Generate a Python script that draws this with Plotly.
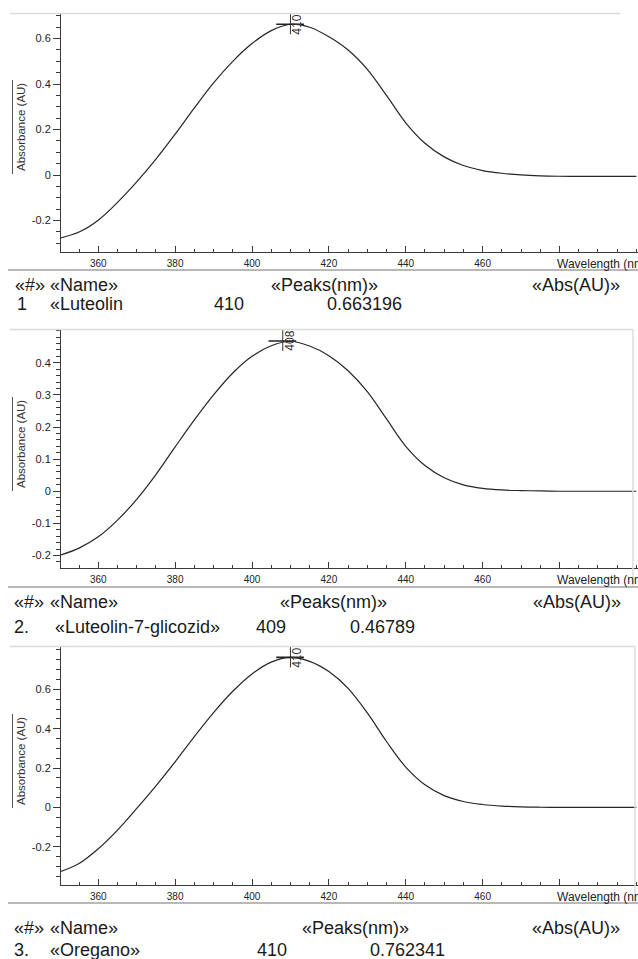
import plotly.graph_objects as go

W, H = 638, 959

# ---------------- data ----------------
wavelength = [350, 355, 360, 365, 370, 375, 380, 385, 390, 395, 400, 405, 410, 415, 420,
              425, 430, 435, 440, 445, 450, 455, 460, 465, 470, 475, 480, 485, 490, 495, 500]

abs_luteolin = [-0.277, -0.25, -0.198, -0.12, -0.03, 0.07, 0.18, 0.295, 0.405, 0.5, 0.578,
                0.635, 0.663, 0.65, 0.608, 0.55, 0.465, 0.35, 0.23, 0.14, 0.08, 0.042,
                0.02, 0.008, 0.001, -0.003, -0.005, -0.006, -0.006, -0.006, -0.006]

abs_glicozid = [-0.199, -0.177, -0.142, -0.09, -0.025, 0.052, 0.138, 0.222, 0.3, 0.368, 0.42,
                0.453, 0.467, 0.452, 0.422, 0.375, 0.31, 0.225, 0.14, 0.08, 0.042, 0.02,
                0.009, 0.004, 0.002, 0.001, 0.0, 0.0, 0.0, 0.0, 0.0]

abs_oregano = [-0.327, -0.285, -0.21, -0.115, -0.005, 0.11, 0.232, 0.36, 0.482, 0.59, 0.678,
               0.738, 0.762, 0.742, 0.69, 0.605, 0.48, 0.335, 0.205, 0.115, 0.06, 0.03,
               0.015, 0.007, 0.003, 0.001, 0.0, 0.0, 0.0, 0.0, 0.0]

series = [abs_luteolin, abs_glicozid, abs_oregano]

peak_nm = [410, 408, 410]
peak_abs = [0.663196, 0.46789, 0.762341]
peak_labels = ["410", "408", "410"]

header_labels = ["«#»", "«Name»", "«Peaks(nm)»", "«Abs(AU)»"]
row_numbers = ["1", "2.", "3."]
row_names = ["«Luteolin", "«Luteolin-7-glicozid»", "«Oregano»"]
row_peaks = ["410", "409", "410"]
row_abs = ["0.663196", "0.46789", "0.762341"]

x_tickvals = [360, 380, 400, 420, 440, 460, 480]
x_ticktext = ["360", "380", "400", "420", "440", "460", ""]
y_tickvals = [[-0.2, 0, 0.2, 0.4, 0.6],
              [-0.2, -0.1, 0, 0.1, 0.2, 0.3, 0.4],
              [-0.2, 0, 0.2, 0.4, 0.6]]
y_ticktext = [["-0.2", "0", "0.2", "0.4", "0.6"],
              ["-0.2", "-0.1", "0", "0.1", "0.2", "0.3", "0.4"],
              ["-0.2", "0", "0.2", "0.4", "0.6"]]

# ---------------- layout geometry (pixels) ----------------
panel_px = [(14, 252), (330, 568), (647, 885)]
y_ranges = [(-0.338, 0.708), (-0.239, 0.502), (-0.394, 0.815)]
y_minor = [0.05, 0.02, 0.05]
x_range = (350.3, 500.3)
x_dom = (61 / W, 637.5 / W)
frame_right = [620, 633, 635]
sep_px = [270, 587, 903]
title_center = [127, 444, 761]
header_y = [284.5, 601.5, 928]
row_y = [304, 627, 950]
col_x_header = [[13, 48, 269, 530], [12, 48, 278, 531], [12, 48, 300, 530]]
col_x_row = [[15, 48, 212, 325], [12, 53, 254, 348], [12, 48, 255, 368]]

TXT = "Liberation Sans, Arial, sans-serif"
AX = "#3a3a3a"


def px(xp):
    return xp / W


def py(yp):
    return 1 - yp / H


fig = go.Figure()
shapes = []
annotations = []
layout = {}

for i in range(3):
    k = "" if i == 0 else str(i + 1)
    top, bot = panel_px[i]
    xa, ya = "x" + k, "y" + k
    fig.add_trace(go.Scatter(x=wavelength, y=series[i], mode="lines",
                             line=dict(color="#262626", width=1.2, shape="spline", smoothing=1.0),
                             xaxis=xa, yaxis=ya, showlegend=False, hoverinfo="skip"))
    # peak marker
    span = y_ranges[i][1] - y_ranges[i][0]
    d_up = 12 * span / (bot - top)
    d_dn = 10 * span / (bot - top)
    fig.add_trace(go.Scatter(x=[peak_nm[i], peak_nm[i]], y=[peak_abs[i] - d_dn, peak_abs[i] + d_up],
                             mode="lines", line=dict(color="#333", width=1),
                             xaxis=xa, yaxis=ya, showlegend=False, hoverinfo="skip", cliponaxis=False))
    fig.add_trace(go.Scatter(x=[peak_nm[i] - 3.7, peak_nm[i] + 3.5], y=[peak_abs[i], peak_abs[i]],
                             mode="lines", line=dict(color="#222", width=1.6),
                             xaxis=xa, yaxis=ya, showlegend=False, hoverinfo="skip"))
    annotations.append(dict(x=peak_nm[i], y=peak_abs[i], xref=xa, yref=ya, xshift=7,
                            text=peak_labels[i], textangle=-90, showarrow=False,
                            font=dict(family=TXT, size=12, color="#333")))

    layout["xaxis" + k] = dict(domain=list(x_dom), range=list(x_range), anchor=ya,
                               showline=True, linecolor=AX, linewidth=1, showgrid=False, zeroline=False,
                               tickmode="array", tickvals=x_tickvals, ticktext=x_ticktext,
                               ticks="inside", ticklen=6, tickcolor=AX, tickwidth=1,
                               minor=dict(ticks="inside", ticklen=3, tickmode="linear", tick0=350, dtick=5,
                                          tickcolor=AX, showgrid=False),
                               tickfont=dict(family=TXT, size=10, color="#222"), ticklabelstandoff=2)
    layout["yaxis" + k] = dict(domain=[py(bot), py(top)], range=list(y_ranges[i]), anchor=xa,
                               showline=True, linecolor=AX, linewidth=1, showgrid=False, zeroline=False,
                               tickmode="array", tickvals=y_tickvals[i], ticktext=y_ticktext[i],
                               ticks="outside", ticklen=7, tickcolor=AX, tickwidth=1,
                               minor=dict(ticks="outside", ticklen=4, tickmode="linear", tick0=0,
                                          dtick=y_minor[i], tickcolor=AX, showgrid=False),
                               tickfont=dict(family=TXT, size=11, color="#222"))

    # frame lines
    shapes.append(dict(type="line", xref="paper", yref="paper", x0=px(10), x1=px(frame_right[i]),
                       y0=py(top - 0.5), y1=py(top - 0.5), line=dict(color="#dcdcdc", width=1.5)))
    if i > 0:
        shapes.append(dict(type="line", xref="paper", yref="paper", x0=px(frame_right[i]),
                           x1=px(frame_right[i]), y0=py(top - 0.5), y1=py(sep_px[i]),
                           line=dict(color="#dcdcdc", width=1.5)))
    shapes.append(dict(type="line", xref="paper", yref="paper", x0=px(8), x1=1,
                       y0=py(sep_px[i]), y1=py(sep_px[i]), line=dict(color="#b8b8b8", width=2)))
    # overline of axis title
    c = title_center[i]
    shapes.append(dict(type="line", xref="paper", yref="paper", x0=px(12.5), x1=px(12.5),
                       y0=py(c - 47), y1=py(c + 47), line=dict(color="#555", width=1)))
    annotations.append(dict(x=px(21), y=py(c), xref="paper", yref="paper", text="Absorbance (AU)",
                            textangle=-90, showarrow=False, xanchor="center", yanchor="middle",
                            font=dict(family=TXT, size=11.5, color="#333")))
    annotations.append(dict(x=px(555), y=py(bot + 11.5), xref="paper", yref="paper",
                            text="Wavelength (nm)", showarrow=False, xanchor="left", yanchor="middle",
                            font=dict(family=TXT, size=12, color="#222")))
    # table text
    for j, lab in enumerate(header_labels):
        annotations.append(dict(x=px(col_x_header[i][j]), y=py(header_y[i]), xref="paper", yref="paper",
                                text=lab, showarrow=False, xanchor="left", yanchor="middle",
                                font=dict(family=TXT, size=18, color="#1a1a1a")))
    row_vals = [row_numbers[i], row_names[i], row_peaks[i], row_abs[i]]
    for j, lab in enumerate(row_vals):
        annotations.append(dict(x=px(col_x_row[i][j]), y=py(row_y[i]), xref="paper", yref="paper",
                                text=lab, showarrow=False, xanchor="left", yanchor="middle",
                                font=dict(family=TXT, size=18, color="#1a1a1a")))

fig.update_layout(width=W, height=H, margin=dict(l=0, r=0, t=0, b=0),
                  paper_bgcolor="white", plot_bgcolor="white",
                  shapes=shapes, annotations=annotations, **layout)

fig.write_html("out.html")
